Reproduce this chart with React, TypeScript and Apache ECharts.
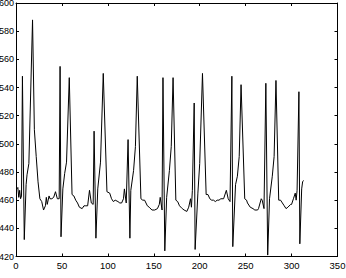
import React, { useEffect, useRef } from "react";
import * as echarts from "echarts";

const xs = [
  1, 2, 3, 4, 5, 6, 7, 9, 11, 12, 14, 18, 20, 22, 24, 26, 28, 30, 32, 33, 34, 36, 37, 39, 41, 43, 45, 47,
  48, 49, 51, 53, 55, 58, 61, 63, 65, 67, 69, 72, 74, 76, 78, 80, 82, 84,
  85, 87, 89, 92, 95, 99, 102, 104, 106, 108, 111, 113, 115, 117, 118, 120,
  122, 124, 125, 128, 130, 132, 136, 138, 140, 143, 145, 148, 151, 154, 156, 157, 159,
  160, 162, 164, 167, 169, 171, 174, 176, 178, 181, 183, 186, 188, 190, 191, 192,
  194, 195, 198, 200, 203, 207, 209, 211, 213, 215, 217, 219, 221, 223, 226, 229, 231, 233,
  235, 236, 239, 241, 243, 245, 249, 251, 252, 255, 258, 260, 263, 264, 267, 268, 270,
  272, 274, 276, 279, 281, 283, 286, 288, 290, 292, 294, 296, 299, 300, 302, 304, 305, 306,
  308, 309, 311, 312, 313,
];
const ys = [
  468, 469, 462, 467, 461, 463, 548, 432, 471, 478, 486, 588, 510, 491, 473, 461, 459, 453, 456, 462, 457, 463, 461, 461, 462, 466, 461, 461,
  555, 434, 468, 479, 487, 547, 464, 463, 460, 458, 455, 454, 456, 456, 456, 467, 458, 457,
  509, 433, 468, 487, 550, 466, 465, 461, 459, 460, 459, 458, 458, 461, 468, 458,
  503, 433, 467, 481, 498, 548, 461, 460, 460, 456, 455, 453, 453, 454, 457, 462, 453,
  547, 424, 462, 481, 498, 547, 460, 459, 456, 454, 453, 452, 455, 461, 455, 467,
  529, 425, 465, 486, 550, 464, 464, 461, 460, 460, 459, 460, 460, 461, 461, 467, 461, 459,
  548, 427, 471, 477, 491, 542, 461, 460, 458, 455, 454, 453, 453, 454, 461, 460, 454,
  543, 421, 461, 477, 491, 545, 460, 460, 458, 456, 454, 455, 457, 457, 461, 465, 460, 467,
  537, 429, 468, 473, 474,
];

const xTicks = { min: 0, max: 350, interval: 50 };
const yTicks = { min: 420, max: 600, interval: 20 };

export default function App() {
  const ref = useRef<HTMLDivElement>(null);
  useEffect(() => {
    if (!ref.current) return;
    const chart = echarts.init(ref.current, undefined, { renderer: "svg" });
    const font = "'Liberation Sans', Arial, Helvetica, sans-serif";
    const axisLine = { show: true, onZero: false, lineStyle: { color: "#000", width: 1 } };
    const tick = { show: true, inside: true, length: 3, lineStyle: { color: "#000", width: 1 } };
    chart.setOption({
      animation: false,
      backgroundColor: "#fff",
      grid: { left: 16, right: 8.5, top: 3, bottom: 21.5, containLabel: false, outerBoundsMode: "none" },
      xAxis: [
        {
          type: "value",
          position: "bottom",
          ...xTicks,
          axisLine,
          axisTick: tick,
          splitLine: { show: false },
          axisLabel: { color: "#000", fontSize: 9.5, fontFamily: font, margin: 4, showMaxLabel: true, showMinLabel: true, hideOverlap: false },
        },
        {
          type: "value",
          position: "top",
          ...xTicks,
          axisLine,
          axisTick: tick,
          splitLine: { show: false },
          axisLabel: { show: false },
        },
      ],
      yAxis: [
        {
          type: "value",
          position: "left",
          ...yTicks,
          axisLine,
          axisTick: tick,
          splitLine: { show: false },
          axisLabel: { color: "#000", fontSize: 9, fontFamily: font, margin: 2, showMaxLabel: true, showMinLabel: true, hideOverlap: false },
        },
        {
          type: "value",
          position: "right",
          ...yTicks,
          axisLine,
          axisTick: tick,
          splitLine: { show: false },
          axisLabel: { show: false },
        },
      ],
      series: [
        {
          type: "line",
          xAxisIndex: 0,
          yAxisIndex: 0,
          data: xs.map((x, i) => [x, ys[i]]),
          showSymbol: false,
          symbol: "none",
          lineStyle: { color: "#000", width: 1 },
        },
      ],
    });
    return () => chart.dispose();
  }, []);
  return (
    <div
      ref={ref}
      style={{ position: "fixed", left: 0, top: 0, width: 346, height: 278, background: "#fff" }}
    />
  );
}
